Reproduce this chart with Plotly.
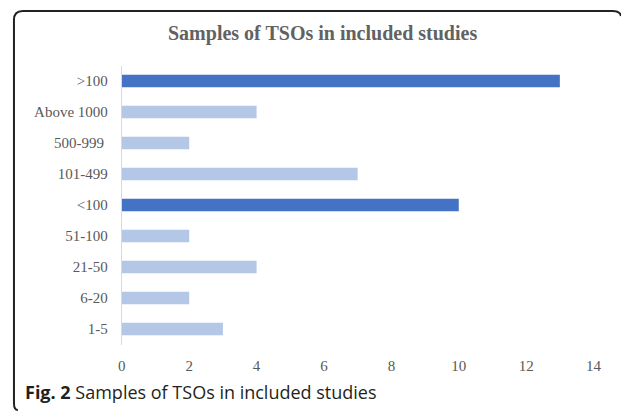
import plotly.graph_objects as go

categories = ["1-5", "6-20", "21-50", "51-100", "<100", "101-499", "500-999\u00a0", "Above 1000", ">100"]
values = [3, 2, 4, 2, 10, 7, 2, 4, 13]
highlight = [False, False, False, False, True, False, False, False, True]
x_ticks = [0, 2, 4, 6, 8, 10, 12, 14]

DARK = "#4472C4"
LIGHT = "#B4C7E7"
colors = [DARK if h else LIGHT for h in highlight]

# page body has an 8px margin; the figure is placed at (8, 8)
OFF = 8
W, H = 629 - OFF, 411 - OFF
def px(x):
    return (x - OFF) / W
def py(y):
    return 1 - (y - OFF) / H

fig = go.Figure(go.Bar(
    x=values, y=categories, orientation="h",
    marker=dict(color=colors, line=dict(width=0)),
    width=0.4, hoverinfo="skip",
))

serif = "Liberation Serif, Times New Roman, serif"

fig.update_layout(
    width=W, height=H,
    margin=dict(l=0, r=0, t=0, b=0),
    paper_bgcolor="white", plot_bgcolor="white",
    showlegend=False,
    xaxis=dict(
        domain=[px(120), px(601)], range=[0, 14],
        tickvals=x_ticks, ticktext=[str(t) for t in x_ticks],
        showgrid=False, zeroline=False, showline=False,
        ticks="", ticklabelstandoff=10,
        tickfont=dict(family=serif, size=15, color="#595959"),
    ),
    yaxis=dict(
        domain=[py(344.5), py(65.5)],
        categoryorder="array", categoryarray=categories,
        showgrid=False, zeroline=False,
        showline=True, linecolor="#D9D9D9", linewidth=1,
        ticks="", ticklabelstandoff=10,
        tickfont=dict(family=serif, size=15, color="#595959"),
    ),
    annotations=[
        dict(text="<b>Samples of TSOs in included studies</b>", xref="paper", yref="paper",
             x=px(325), y=py(33), xanchor="center", yanchor="middle", showarrow=False,
             font=dict(family=serif, size=20, color="#626262")),
        dict(text="<b>Fig. 2</b> Samples of TSOs in included studies", xref="paper", yref="paper",
             x=px(19), y=py(392), xanchor="left", yanchor="middle", showarrow=False,
             font=dict(family="Open Sans, sans-serif", size=18, color="#231F20")),
    ],
    shapes=[
        dict(type="path", xref="paper", yref="paper",
             path=(f"M {px(14)},{py(410)} Q {px(10)},{py(410)} {px(10)},{py(403)} "
                   f"L {px(10)},{py(20)} Q {px(10)},{py(11)} {px(19)},{py(11)} "
                   f"L {px(620)},{py(11)} Q {px(628)},{py(11)} {px(629)},{py(16)}"),
             line=dict(color="#222222", width=2)),
    ],
)

fig.write_html("out.html")
